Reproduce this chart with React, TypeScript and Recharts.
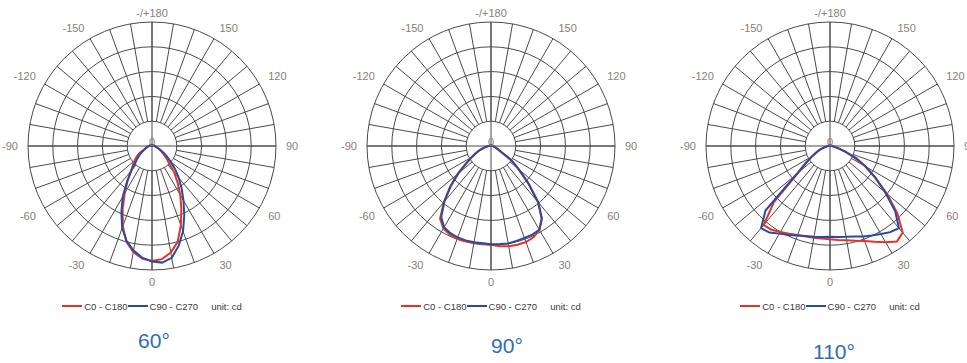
import React from "react";
import { RadarChart, Radar, PolarGrid, PolarAngleAxis, PolarRadiusAxis, Legend } from "recharts";

// gamma angles (deg), 0 = straight down, positive to the right
const GAMMA = [
  -180, -175, -170, -165, -160, -155, -150, -145, -140, -135, -130, -125, -120, -115, -110, -105, -100, -95,
  -90, -85, -80, -75, -70, -65, -60, -55, -50, -45, -40, -35, -30, -25, -20, -15, -10, -5,
  0, 5, 10, 15, 20, 25, 30, 35, 40, 45, 50, 55, 60, 65, 70, 75, 80, 85, 90,
  95, 100, 105, 110, 115, 120, 125, 130, 135, 140, 145, 150, 155, 160, 165, 170, 175,
];
const ANGLE_TICKS = [-180, -150, -120, -90, -60, -30, 0, 30, 60, 90, 120, 150];
const SPOKES = [
  -180, -170, -160, -150, -140, -130, -120, -110, -100, -90, -80, -70, -60, -50, -40, -30, -20, -10,
  0, 10, 20, 30, 40, 50, 60, 70, 80, 90, 100, 110, 120, 130, 140, 150, 160, 170,
];
const RINGS = [100, 200, 300, 400, 500];
const MAX_CD = 500;

// intensities in cd, one value per GAMMA entry
const BEAM60_C0 = [
  0, 1, 2, 2, 2, 2, 3, 3, 3, 4, 4, 5, 5, 6, 7, 8, 9, 10,
  12, 14, 16, 20, 28, 40, 60, 76, 92, 108, 132, 172, 220, 280, 344, 400, 434, 456,
  464, 458, 436, 400, 340, 280, 228, 180, 140, 96, 74, 56, 42, 34, 27, 20, 16, 14, 12,
  10, 9, 8, 7, 6, 5, 5, 4, 4, 3, 3, 3, 2, 2, 2, 2, 1,
];
const BEAM60_C90 = [
  0, 1, 2, 2, 2, 2, 2, 2, 2, 3, 4, 4, 4, 6, 6, 8, 8, 10,
  12, 16, 20, 24, 28, 34, 44, 60, 76, 94, 130, 176, 236, 292, 352, 396, 428, 452,
  466, 472, 458, 416, 366, 308, 254, 208, 168, 132, 98, 74, 54, 38, 26, 19, 14, 12, 10,
  8, 8, 6, 6, 4, 4, 4, 2, 2, 2, 2, 2, 2, 2, 2, 1, 1,
];
const BEAM90_C0 = [
  0, 1, 1, 1, 1, 1, 1, 1, 2, 2, 2, 2, 3, 3, 4, 4, 5, 6,
  8, 14, 22, 32, 48, 68, 92, 124, 176, 234, 296, 358, 384, 394, 398, 398, 396, 394,
  398, 406, 410, 412, 412, 406, 390, 356, 296, 216, 148, 100, 48, 30, 20, 14, 10, 8, 6,
  5, 4, 4, 3, 3, 2, 2, 2, 2, 1, 1, 1, 1, 1, 1, 1, 0,
];
const BEAM90_C90 = [
  0, 1, 1, 1, 1, 1, 1, 1, 2, 2, 2, 2, 3, 3, 4, 4, 5, 6,
  8, 14, 22, 32, 48, 66, 88, 120, 172, 230, 292, 350, 378, 388, 392, 394, 394, 394,
  396, 397, 399, 396, 394, 394, 390, 358, 296, 212, 144, 100, 46, 30, 20, 14, 10, 8, 6,
  5, 4, 4, 3, 3, 2, 2, 2, 2, 1, 1, 1, 1, 1, 1, 1, 0,
];
const BEAM110_C0 = [
  0, 1, 1, 1, 1, 1, 1, 1, 2, 2, 2, 2, 3, 3, 4, 4, 5, 6,
  8, 12, 18, 28, 42, 60, 84, 116, 168, 320, 416, 412, 400, 390, 382, 378, 376, 374,
  376, 380, 386, 396, 408, 426, 448, 470, 456, 384, 300, 224, 164, 106, 62, 36, 20, 12, 8,
  6, 5, 4, 4, 3, 3, 2, 2, 2, 2, 1, 1, 1, 1, 1, 1, 0,
];
const BEAM110_C90 = [
  0, 1, 1, 1, 1, 1, 1, 1, 2, 2, 2, 2, 3, 3, 4, 4, 5, 6,
  8, 12, 18, 28, 44, 60, 84, 118, 176, 368, 432, 426, 408, 396, 384, 376, 372, 368,
  366, 368, 372, 378, 388, 398, 410, 424, 432, 372, 290, 224, 166, 118, 64, 30, 20, 12, 8,
  6, 5, 4, 4, 3, 3, 2, 2, 2, 2, 1, 1, 1, 1, 1, 1, 0,
];

const PANELS = [
  { title: "60°", c0: BEAM60_C0, c90: BEAM60_C90, left: 2, titleX: 152, titleTop: 330 },
  { title: "90°", c0: BEAM90_C0, c90: BEAM90_C90, left: 341, titleX: 166, titleTop: 335 },
  { title: "110°", c0: BEAM110_C0, c90: BEAM110_C90, left: 680, titleX: 154, titleTop: 341 },
];

const FONT = '"Liberation Sans", Arial, sans-serif';
const RED = "#e3342b";
const BLUE = "#2b4b9e";
const GRID = "#4a4a4a";
const LABEL = "#8a7e76";
const CX = 150;
const CY = 146;
const R = 124;
// gamma 0 points down: polar angle = 270 + gamma
const SPOKE_ANGLES = SPOKES.map((g) => 270 + g);
const RING_RADII = RINGS.map((v) => (v / MAX_CD) * R);

function renderAngleTick(props: any) {
  const { x, y, payload, textAnchor } = props;
  const g = Number(payload.value);
  const label = Math.abs(g) === 180 ? "-/+180" : String(g);
  // oblique labels sit a little further off the ring vertically
  let shift = 0;
  if (g === 0) shift = 3;
  else if (Math.abs(g) === 30 || Math.abs(g) === 60) shift = 4;
  else if (Math.abs(g) === 120 || Math.abs(g) === 150) shift = -3;
  return (
    <text x={x + (textAnchor === "start" ? 1 : textAnchor === "end" ? -1 : 0)} y={y + shift} dy="0.35em"
      textAnchor={textAnchor} fill={LABEL} fontSize={11} fontFamily={FONT}>
      {label}
    </text>
  );
}

function renderRadiusTick(props: any) {
  const { x, y, payload } = props;
  return (
    <text x={x} y={y} textAnchor="middle" fill={LABEL} fontSize={11} fontFamily={FONT}>
      {payload.value}
    </text>
  );
}

function renderLegend(props: any) {
  const items = props.payload || [];
  return (
    <div style={{ display: "flex", justifyContent: "center", alignItems: "center", height: 14, fontFamily: FONT, fontSize: 9.5, color: "#3a3a3a" }}>
      {items.map((it: any) => (
        <span key={it.value} style={{ display: "flex", alignItems: "center" }}>
          <span style={{ display: "inline-block", width: 20, height: 1.5, background: it.color, marginRight: 2 }} />
          <span>{it.value}</span>
        </span>
      ))}
      <span style={{ marginLeft: 13 }}>unit: cd</span>
    </div>
  );
}

function PolarPanel({ title, c0, c90, left, titleX, titleTop }: (typeof PANELS)[number]) {
  const rows = GAMMA.map((g, i) => ({ g, c0: c0[i], c90: c90[i] }));
  return (
    <div style={{ position: "absolute", left, top: 0, width: 300, height: 363 }}>
      {/* grid layer: rings + 10° spokes starting at the first ring */}
      <div style={{ position: "absolute", left: 0, top: 0 }}>
        <RadarChart width={300} height={300} cx={CX} cy={CY} innerRadius={R / 5} outerRadius={R}
          startAngle={90} endAngle={450} data={rows} margin={{ top: 0, right: 0, bottom: 0, left: 0 }}>
          <PolarGrid gridType="circle" polarAngles={SPOKE_ANGLES} polarRadius={RING_RADII} stroke={GRID} strokeWidth={1} />
        </RadarChart>
      </div>
      <div style={{ position: "absolute", left: 0, top: 0 }}>
        <RadarChart width={300} height={313} cx={CX} cy={CY} outerRadius={R}
          startAngle={90} endAngle={450} data={rows} margin={{ top: 0, right: 0, bottom: 0, left: 0 }}>
          <PolarGrid gridType="circle" polarAngles={[90, 180, 270, 360]} polarRadius={[]} stroke={GRID} strokeWidth={1} />
          <PolarAngleAxis dataKey="g" type="number" domain={[-180, 180]} ticks={ANGLE_TICKS} tick={renderAngleTick}
            tickSize={9} axisLine={false} tickLine={false} />
          <PolarRadiusAxis angle={90} domain={[0, MAX_CD]} ticks={[0]} tick={renderRadiusTick} axisLine={false} tickLine={false} />
          <Radar name="C0 - C180" dataKey="c0" stroke={RED} strokeWidth={2} fill="none" fillOpacity={0} dot={false} isAnimationActive={false} />
          <Radar name="C90 - C270" dataKey="c90" stroke={BLUE} strokeWidth={2} fill="none" fillOpacity={0} dot={false} isAnimationActive={false} />
          <Legend content={renderLegend} verticalAlign="bottom" />
        </RadarChart>
      </div>
      <div style={{ position: "absolute", left: titleX, top: titleTop, transform: "translateX(-50%)", fontFamily: FONT, fontSize: 21, lineHeight: "21px", color: "#2f6db5", whiteSpace: "nowrap" }}>
        {title}
      </div>
    </div>
  );
}

export default function App() {
  return (
    <div style={{ position: "absolute", left: 0, top: 0, width: 967, height: 363, background: "#fff", overflow: "hidden" }}>
      {PANELS.map((p) => (
        <PolarPanel key={p.title} {...p} />
      ))}
    </div>
  );
}
